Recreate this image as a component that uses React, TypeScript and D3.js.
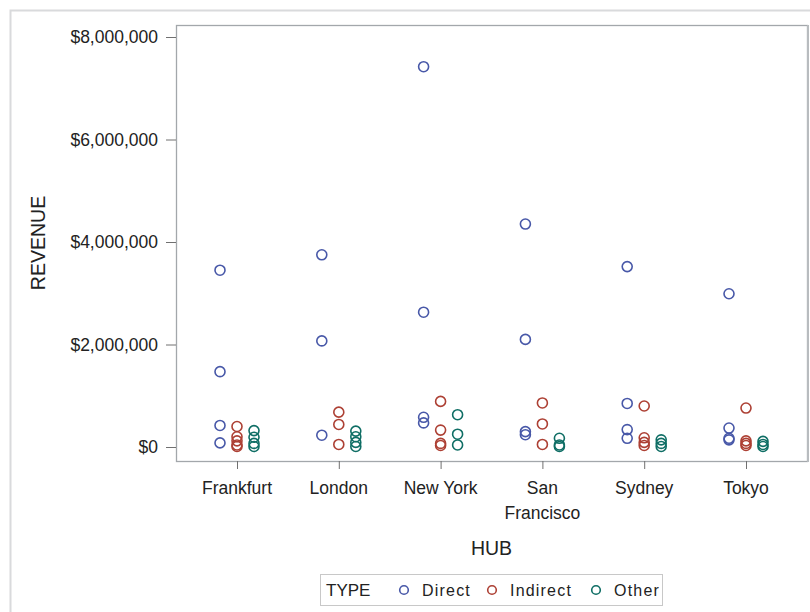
import React, { useEffect, useRef } from 'react';
import * as d3 from 'd3';

// hubs on the x axis
const hubs = ['Frankfurt', 'London', 'New York', 'San Francisco', 'Sydney', 'Tokyo'];
const types = ['Direct', 'Indirect', 'Other'];
const yTicks = [0, 2000000, 4000000, 6000000, 8000000];

// revenue per hub, one array per type (same hub order)
const directRevenue = [
  [3450000, 1470000, 420000, 80000],
  [3750000, 2070000, 230000],
  [7420000, 2630000, 580000, 470000],
  [4350000, 2100000, 300000, 240000],
  [3520000, 850000, 340000, 170000],
  [2990000, 370000, 170000, 140000],
];
const indirectRevenue = [
  [400000, 200000, 120000, 40000, 10000],
  [680000, 440000, 50000],
  [890000, 330000, 70000, 30000],
  [860000, 450000, 50000],
  [800000, 180000, 90000, 30000],
  [760000, 120000, 70000, 30000],
];
const otherRevenue = [
  [320000, 190000, 70000, 10000],
  [310000, 200000, 90000, 10000],
  [630000, 250000, 40000],
  [170000, 40000, 10000],
  [140000, 70000, 10000],
  [110000, 50000, 10000],
];

const colors = ['#4858a8', '#ad4034', '#0f6e65'];

const App: React.FC = () => {
  const svgRef = useRef<SVGSVGElement | null>(null);

  useEffect(() => {
    const svg = d3.select(svgRef.current);
    svg.selectAll('*').remove();

    const frame = { left: 176, top: 25, right: 807, bottom: 461 };
    const font = 'Liberation Sans, Arial, sans-serif';

    const x = d3.scalePoint<string>().domain(hubs).range([237, 746]);
    const dx = d3.scalePoint<string>().domain(types).range([-17, 17]);
    const y = d3.scaleLinear().domain([0, 8000000]).range([447, 37]);
    const color = d3.scaleOrdinal<string, string>().domain(types).range(colors);

    // outer border of the graph
    svg.append('rect')
      .attr('x', 10.5).attr('y', 10.5)
      .attr('width', 820).attr('height', 620)
      .attr('fill', 'none').attr('stroke', '#d9dadc').attr('stroke-width', 2);

    // plot frame
    svg.append('rect')
      .attr('x', frame.left + 0.5).attr('y', frame.top + 0.5)
      .attr('width', frame.right - frame.left).attr('height', frame.bottom - frame.top)
      .attr('fill', 'white').attr('stroke', '#a3a7ab').attr('stroke-width', 1.3);
    svg.append('line')
      .attr('x1', frame.right + 1).attr('x2', frame.right + 1)
      .attr('y1', frame.top).attr('y2', frame.bottom + 1)
      .attr('stroke', '#b8bcbf').attr('stroke-width', 2);

    // y axis
    const fmt = d3.format('$,.0f');
    const yAxis = svg.append('g');
    yAxis.selectAll('line').data(yTicks).enter().append('line')
      .attr('x1', 166).attr('x2', frame.left)
      .attr('y1', d => y(d) + 0.5).attr('y2', d => y(d) + 0.5)
      .attr('stroke', '#707070');
    yAxis.selectAll('text').data(yTicks).enter().append('text')
      .attr('x', 158).attr('y', d => y(d))
      .attr('dy', '0.35em')
      .attr('text-anchor', 'end')
      .attr('font-family', font).attr('font-size', 17.5)
      .attr('fill', '#222')
      .text(d => fmt(d));

    // x axis
    const xAxis = svg.append('g');
    xAxis.selectAll('line').data(hubs).enter().append('line')
      .attr('x1', d => x(d)! + 0.5).attr('x2', d => x(d)! + 0.5)
      .attr('y1', frame.bottom).attr('y2', frame.bottom + 8)
      .attr('stroke', '#707070');
    const xLabels = xAxis.selectAll('text').data(hubs).enter().append('text')
      .attr('x', d => x(d)!).attr('y', 494)
      .attr('text-anchor', 'middle')
      .attr('font-family', font).attr('font-size', 17.5)
      .attr('fill', '#222');
    xLabels.each(function (d) {
      const words = d.split(' ');
      const t = d3.select(this);
      if (d === 'San Francisco') {
        words.forEach((w, i) => {
          t.append('tspan').attr('x', x(d)!).attr('dy', i === 0 ? 0 : 25).text(w);
        });
      } else {
        t.text(d);
      }
    });

    // axis titles
    svg.append('text')
      .attr('x', (frame.left + frame.right) / 2).attr('y', 555)
      .attr('text-anchor', 'middle')
      .attr('font-family', font).attr('font-size', 19.5)
      .attr('fill', '#222')
      .text('HUB');
    svg.append('text')
      .attr('transform', `translate(45, ${(frame.top + frame.bottom) / 2}) rotate(-90)`)
      .attr('text-anchor', 'middle')
      .attr('font-family', font).attr('font-size', 19.5)
      .attr('fill', '#222')
      .text('REVENUE');

    // points
    const series = [directRevenue, indirectRevenue, otherRevenue];
    const points: { hub: string; type: string; value: number }[] = [];
    series.forEach((s, ti) => {
      s.forEach((vals, hi) => {
        vals.forEach(v => points.push({ hub: hubs[hi], type: types[ti], value: v }));
      });
    });
    svg.append('g').selectAll('circle').data(points).enter().append('circle')
      .attr('cx', d => x(d.hub)! + dx(d.type)!)
      .attr('cy', d => y(d.value))
      .attr('r', 5)
      .attr('fill', 'none')
      .attr('stroke', d => color(d.type))
      .attr('stroke-width', 1.6);

    // legend
    const legend = svg.append('g');
    legend.append('rect')
      .attr('x', 320.5).attr('y', 574.5)
      .attr('width', 342).attr('height', 31)
      .attr('fill', 'white').attr('stroke', '#c8c8c8');
    legend.append('text')
      .attr('x', 326).attr('y', 596)
      .attr('font-family', font).attr('font-size', 17)
      .attr('fill', '#222')
      .text('TYPE');
    const legendX = [404, 492, 596];
    types.forEach((t, i) => {
      legend.append('circle')
        .attr('cx', legendX[i]).attr('cy', 590)
        .attr('r', 4.3)
        .attr('fill', 'none').attr('stroke', color(t)).attr('stroke-width', 1.6);
      legend.append('text')
        .attr('x', legendX[i] + 18).attr('y', 596)
        .attr('font-family', font).attr('font-size', 16)
        .attr('letter-spacing', 1.2)
        .attr('fill', '#222')
        .text(t);
    });
  }, []);

  return (
    <svg
      ref={svgRef}
      width={810}
      height={612}
      style={{ position: 'absolute', left: 0, top: 0, background: 'white' }}
    />
  );
};

export default App;
